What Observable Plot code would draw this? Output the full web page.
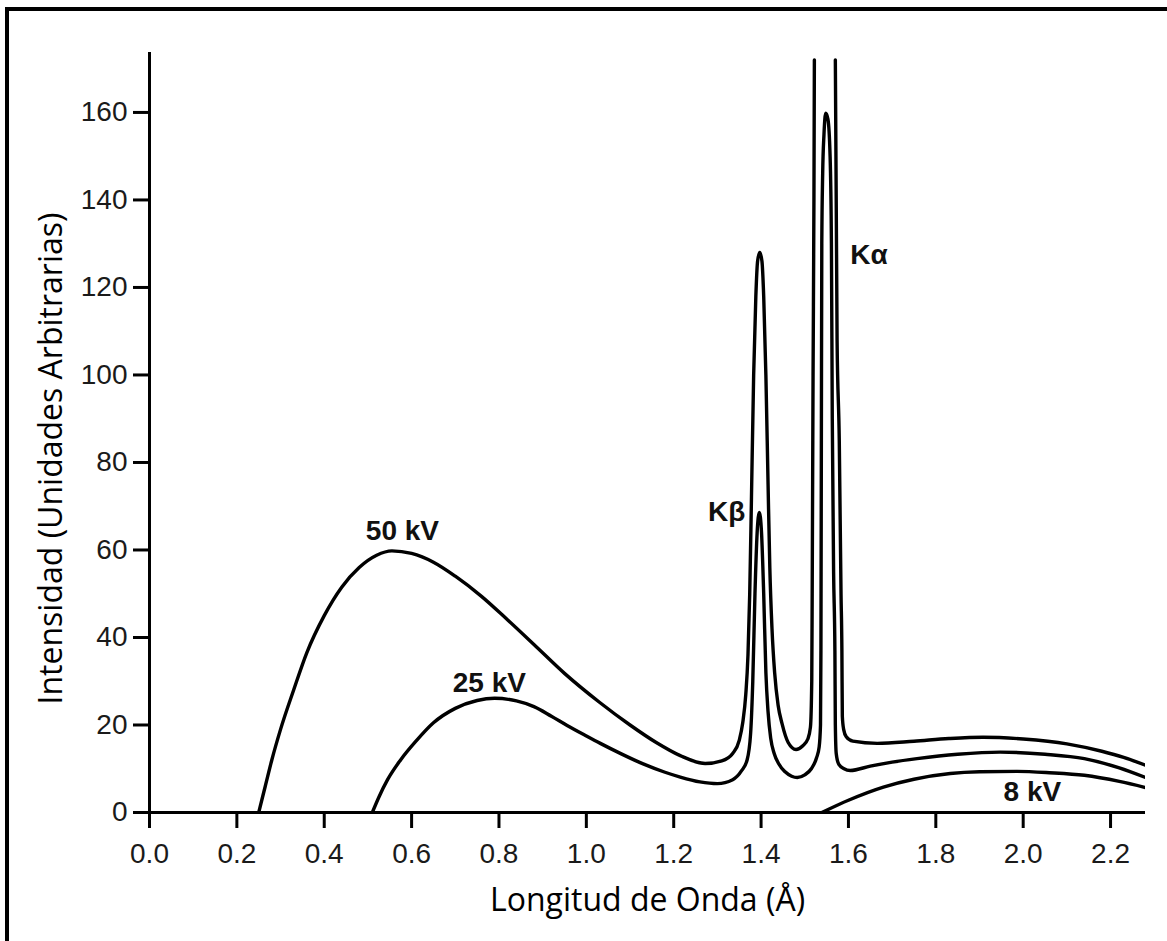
<!DOCTYPE html>
<html>
<head>
<meta charset="utf-8">
<script src="https://cdn.jsdelivr.net/npm/d3@7"></script>
<script src="https://cdn.jsdelivr.net/npm/@observablehq/plot@0.6"></script>
<style>
  html, body { margin: 0; padding: 0; background: #fff; }
  #wrap { position: relative; width: 1167px; height: 941px; overflow: hidden; }
  #frame { position: absolute; left: 5px; top: 7px; width: 1200px; height: 1000px;
           border-left: 4px solid #000; border-top: 4px solid #000; pointer-events: none; }
  #chart { position: absolute; left: 0; top: 0; }
</style>
</head>
<body>
<div id="wrap"><div id="chart"></div><div id="frame"></div></div>
<script>
// Wavelength (Å) and intensity (arbitrary units)
const wl50 = [0.25,0.265,0.28,0.30,0.33,0.36,0.40,0.44,0.48,0.52,0.555,0.60,0.65,0.70,0.76,0.82,0.88,0.95,1.03,1.10,1.16,1.215,1.272,1.31,1.335,1.35,1.358,1.365,1.370,1.374,1.378,1.383,1.388,1.392,1.397,1.402,1.406,1.411,1.416,1.420,1.425,1.431,1.439,1.448,1.462,1.48,1.495,1.507,1.513,1.516,1.517,1.519,1.521,1.522,1.546,1.570,1.574,1.579,1.583,1.585,1.586,1.589,1.595,1.61,1.666,1.75,1.83,1.908,2.0,2.1,2.18,2.23,2.28];
const int50 = [0,6,12,19,28,36.5,45,51.5,56,58.8,59.8,59.2,57.2,54,49.4,44,38.4,31.8,25.2,20,16,13,11.2,11.8,13.5,16.5,20.5,27,36,50,72,100,118,126,128,126,118,100,75,56,42,32,24.5,20.3,16,14.4,15.2,16.8,19.5,30,50,100,140,172,NaN,172,108,85,50,37,22,19,17.3,16.3,15.8,16.3,16.9,17.2,16.8,15.7,14,12.6,10.8];

const wl25 = [0.51,0.525,0.545,0.574,0.61,0.65,0.70,0.75,0.79,0.84,0.88,0.92,0.956,1.0,1.032,1.08,1.13,1.18,1.215,1.26,1.30,1.335,1.355,1.368,1.376,1.381,1.386,1.391,1.396,1.401,1.406,1.411,1.416,1.422,1.43,1.44,1.455,1.47,1.483,1.50,1.515,1.527,1.533,1.536,1.537,1.538,1.539,1.541,1.544,1.548,1.553,1.558,1.561,1.563,1.566,1.569,1.570,1.572,1.578,1.59,1.604,1.65,1.70,1.757,1.85,1.947,2.05,2.14,2.22,2.28];
const int25 = [0,3.5,7.5,11.9,16.3,20.5,23.8,25.6,26.1,25.5,24.2,22,19.9,17.5,15.8,13.4,11.1,9.2,8.1,7,6.6,7.5,9.5,12,18,30,50,64,68.6,64,50,32,23,17,13.5,11.2,9.3,8.3,8,8.6,10,12.5,15,20,37,85,130,146,155,159.8,158.5,150,130,90,55,37,20,13.5,11,10,9.6,10.6,11.5,12.3,13.3,13.8,13.3,12.3,10.2,8];

const wl8 = [1.539,1.60,1.68,1.75,1.833,1.90,1.986,2.06,2.14,2.22,2.28];
const int8 = [0,2.8,5.8,7.6,8.9,9.3,9.4,9.1,8.5,7.1,5.7];

const xTicks = [0,0.2,0.4,0.6,0.8,1.0,1.2,1.4,1.6,1.8,2.0,2.2];
const yTicks = [0,20,40,60,80,100,120,140,160];

const labelText = ["50 kV","25 kV","8 kV","Kβ","Kα"];
const labelX = [0.579,0.778,2.021,1.364,1.604];
const labelY = [64.3,29.7,4.6,68.6,127.3];
const labelAnchor = ["middle","middle","middle","end","start"];

const xTitle = "Longitud de Onda (Å)";
const yTitle = "Intensidad (Unidades Arbitrarias)";

const toRows = (xs, ys) => xs.map((x, i) => ({x, y: ys[i]}));
const s50 = toRows(wl50, int50), s25 = toRows(wl25, int25), s8 = toRows(wl8, int8);
const labels = labelText.map((t, i) => ({t, x: labelX[i], y: labelY[i], a: labelAnchor[i]}));

const lineOpts = {x: "x", y: "y", curve: "monotone-x", stroke: "#000", strokeWidth: 3.4, clip: true};
const titleFont = "'Open Sans', Lato, sans-serif";

const chart = Plot.plot({
  width: 1167,
  height: 941,
  marginLeft: 149,
  marginRight: 22,
  marginTop: 52,
  marginBottom: 129,
  x: {domain: [0, 2.28]},
  y: {domain: [0, 173.7]},
  style: {fontFamily: "'Liberation Sans', Arial, sans-serif", fontSize: "28px", color: "#1a1a1a", background: "transparent"},
  marks: [
    Plot.axisX({ticks: xTicks, tickFormat: d3.format(".1f"), tickSize: 16, tickPadding: 15, label: null, stroke: "#000", strokeWidth: 3}),
    Plot.axisY({ticks: yTicks, tickSize: 16, tickPadding: 6, label: null, stroke: "#000", strokeWidth: 3}),
    Plot.ruleX([0], {y1: 0, y2: 173.7, stroke: "#000", strokeWidth: 3}),
    Plot.ruleY([0], {x1: 0, x2: 2.28, stroke: "#000", strokeWidth: 3}),
    Plot.line(s50, lineOpts),
    Plot.line(s25, lineOpts),
    Plot.line(s8, lineOpts),
    ...["middle","end","start"].map(a => Plot.text(labels.filter(d => d.a === a), {
      x: "x", y: "y", text: "t", textAnchor: a, lineAnchor: "middle",
      fontWeight: "bold", fontSize: 28, fill: "#111"
    })),
    Plot.text([xTitle], {frameAnchor: "bottom", textAnchor: "middle", dy: 88, lineAnchor: "middle",
      fontFamily: titleFont, fontSize: 32, fontWeight: 500, fill: "#000"}),
    Plot.text([yTitle], {frameAnchor: "left", textAnchor: "middle", dx: -98, dy: 26, rotate: -90, lineAnchor: "middle",
      fontFamily: titleFont, fontSize: 32, fontWeight: 500, fill: "#000"})
  ]
});
document.getElementById("chart").appendChild(chart);
</script>
</body>
</html>
